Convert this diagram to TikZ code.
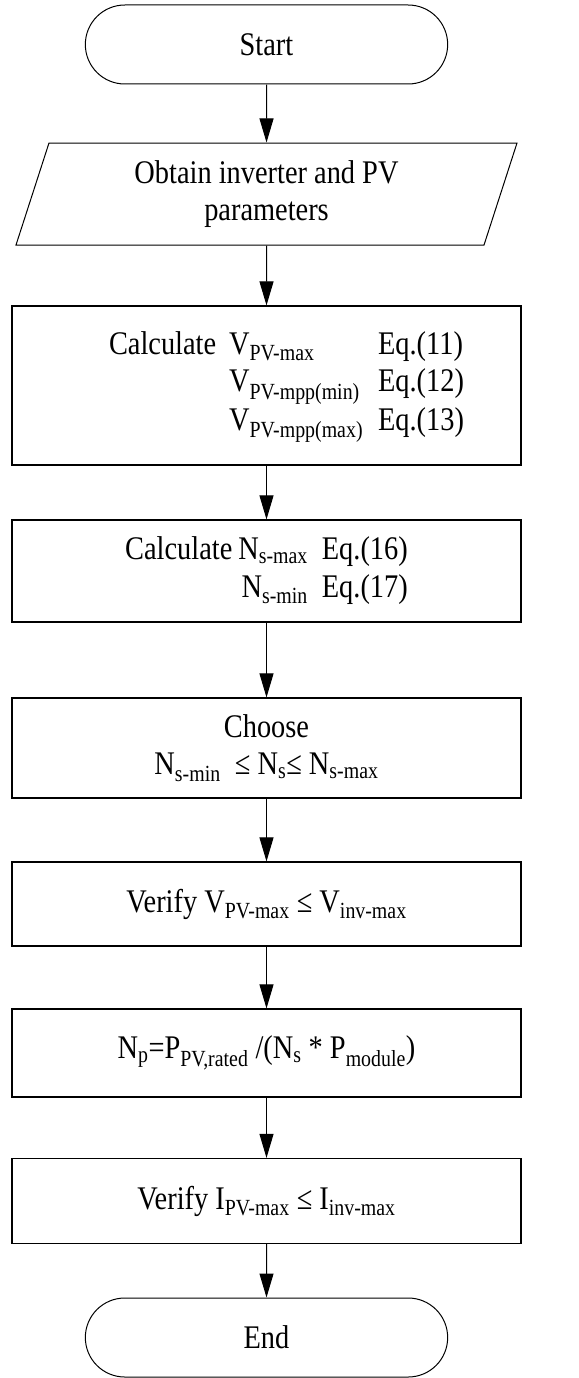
\documentclass[tikz,border=0pt]{standalone}
\usepackage{fontspec}
\setmainfont{Liberation Serif}[FakeStretch=0.86]
\usetikzlibrary{shapes.geometric, shapes.misc, arrows.meta, positioning}

\newcommand{\flowfont}{\fontsize{33pt}{37.5pt}\selectfont}

\begin{document}
\begin{tikzpicture}[
    x=1pt, y=-1pt,
    terminal/.style={rounded rectangle, draw=black, line width=1pt, minimum width=369pt, minimum height=79pt, font=\flowfont},
    inout/.style={trapezium, trapezium left angle=66, trapezium right angle=114, trapezium stretches body, draw=black, line width=1pt, minimum width=501pt, minimum height=102pt, align=center, font=\flowfont},
    process/.style={rectangle, draw=black, line width=1.2pt, minimum width=509pt, align=center, font=\flowfont},
    arrow/.style={-{Triangle[length=24pt, width=14pt]}, line width=1pt}
]
\useasboundingbox (0,0) rectangle (578,1378);

% Terminals and steps
\node[terminal] (start) at (266.5, 44.5) {Start};
\node[inout] (params) at (266.5, 194) {Obtain inverter and PV\\parameters};
\node[process, minimum height=159pt] (calcv) at (266.5, 385.5) {%
  \begin{tabular}{@{\hspace{40pt}}r@{\hspace{13pt}}l@{\hspace{15pt}}l@{}}
  Calculate & V\textsubscript{PV-max} & Eq.(11)\\
            & V\textsubscript{PV-mpp(min)} & Eq.(12)\\
            & V\textsubscript{PV-mpp(max)} & Eq.(13)
  \end{tabular}};
\node[process, minimum height=102pt] (calcn) at (266.5, 571) {%
  \begin{tabular}{@{}r@{\hspace{6pt}}r@{\hspace{14pt}}l@{}}
  Calculate & N\textsubscript{s-max} & Eq.(16)\\
            & N\textsubscript{s-min} & Eq.(17)
  \end{tabular}};
\node[process, minimum height=100pt] (choose) at (266.5, 748) {Choose\\N\textsubscript{s-min}\ \ ≤ N\textsubscript{s}≤ N\textsubscript{s-max}};
\node[process, minimum height=84pt] (verv) at (266.5, 904) {Verify V\textsubscript{PV-max} ≤ V\textsubscript{inv-max}};
\node[process, minimum height=88pt] (np) at (266.5, 1053) {N\textsubscript{p}=P\textsubscript{PV,rated} /(N\textsubscript{s} * P\textsubscript{module})};
\node[process, minimum height=85pt] (veri) at (266.5, 1201) {Verify I\textsubscript{PV-max} ≤ I\textsubscript{inv-max}};
\node[terminal] (stop) at (266.5, 1337.5) {End};

% Arrows
\draw[arrow] (start) -- (params);
\draw[arrow] (params) -- (calcv);
\draw[arrow] (calcv) -- (calcn);
\draw[arrow] (calcn) -- (choose);
\draw[arrow] (choose) -- (verv);
\draw[arrow] (verv) -- (np);
\draw[arrow] (np) -- (veri);
\draw[arrow] (veri) -- (stop);

\end{tikzpicture}
\end{document}
